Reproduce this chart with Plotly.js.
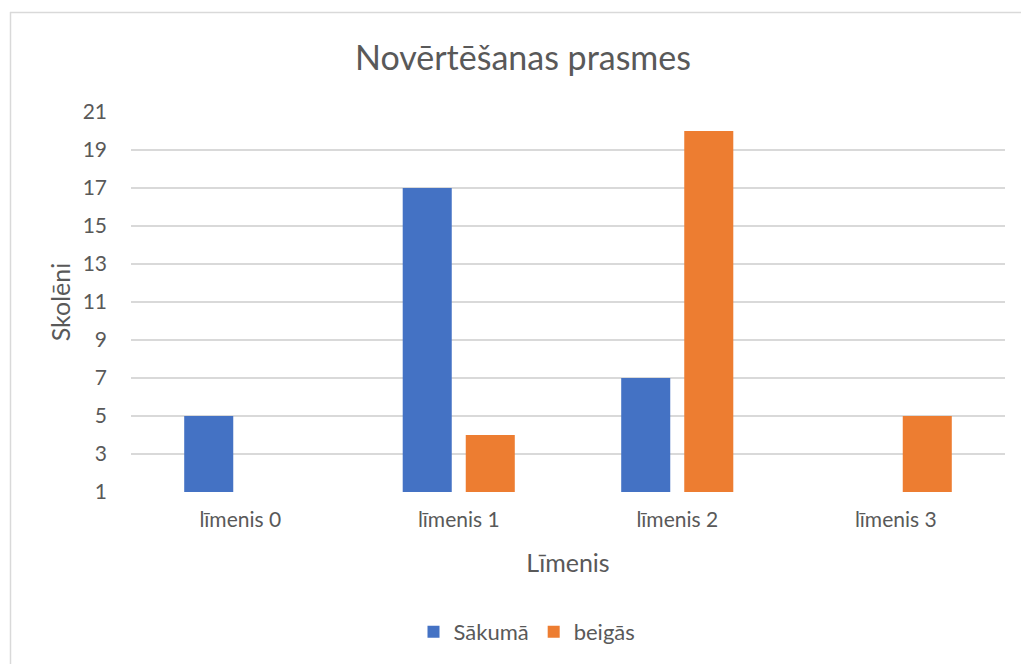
<!DOCTYPE html>
<html><head><meta charset="utf-8">
<script src="https://cdn.plot.ly/plotly-3.0.1.min.js"></script>
<style>html,body{margin:0;padding:0;background:#fff;}#chart{width:1021px;height:664px;}</style>
</head><body><div id="chart"></div>
<script>
const categories = ["līmenis 0", "līmenis 1", "līmenis 2", "līmenis 3"];
const seriesNames = ["Sākumā", "beigās"];
const sakuma = [5, 17, 7, 0];
const beigas = [0, 4, 20, 5];
const yTicks = [1, 3, 5, 7, 9, 11, 13, 15, 17, 19, 21];

const FONT = "Lato, 'Open Sans', sans-serif";
const GRAY = "#595959";
const L = 131, R = 16, T = 112, B = 172, W = 1021, H = 664;
const pw = W - L - R, ph = H - T - B;
const px = v => (v - L) / pw;
const py = v => (H - B - v) / ph;

const traces = [
  {type: "bar", name: seriesNames[0], x: categories, y: sakuma, marker: {color: "#4472C4"}, hoverinfo: "x+y"},
  {type: "bar", name: seriesNames[1], x: categories, y: beigas, marker: {color: "#ED7D31"}, hoverinfo: "x+y"}
];

const layout = {
  width: W, height: H,
  margin: {l: L, r: R, t: T, b: B, pad: 0},
  paper_bgcolor: "#fff", plot_bgcolor: "#fff",
  font: {family: FONT, color: GRAY, size: 21},
  title: {text: "Novērtēšanas prasmes", font: {family: FONT, size: 34, color: GRAY},
          xref: "container", x: 523 / W, xanchor: "center", yref: "container", y: 1 - 58 / H, yanchor: "middle"},
  barmode: "group", bargap: 0.423, bargroupgap: 0.222,
  xaxis: {
    type: "category", showgrid: false, zeroline: false, showline: false, ticks: "",
    tickfont: {size: 21, color: GRAY}, ticklabelstandoff: 13,
    title: {text: "Līmenis", font: {size: 25, color: GRAY}, standoff: 24}
  },
  yaxis: {
    range: [1, 21], tickvals: yTicks, ticktext: yTicks.map(String),
    showgrid: true, gridcolor: "#d9d9d9", gridwidth: 1.3, zeroline: false, showline: false, ticks: "",
    tickfont: {size: 21, color: GRAY}, ticklabelstandoff: 23,
    title: {text: "Skolēni", font: {size: 25, color: GRAY}, standoff: 4},
    fixedrange: true
  },
  legend: {orientation: "h", x: 527 / W, xref: "container", xanchor: "center", y: 1 - 632 / H, yref: "container", yanchor: "middle",
           font: {size: 22, color: GRAY}, itemwidth: 30, traceorder: "normal"},
  shapes: [
    {type: "line", xref: "paper", yref: "paper", x0: px(10.5), x1: px(10.5), y0: py(12), y1: py(664), line: {color: "#d9d9d9", width: 1.5}},
    {type: "line", xref: "paper", yref: "paper", x0: px(10), x1: px(1021), y0: py(12.5), y1: py(12.5), line: {color: "#d9d9d9", width: 1.5}}
  ],
  showlegend: true
};

Plotly.newPlot("chart", traces, layout, {displayModeBar: false, staticPlot: true});
</script></body></html>
